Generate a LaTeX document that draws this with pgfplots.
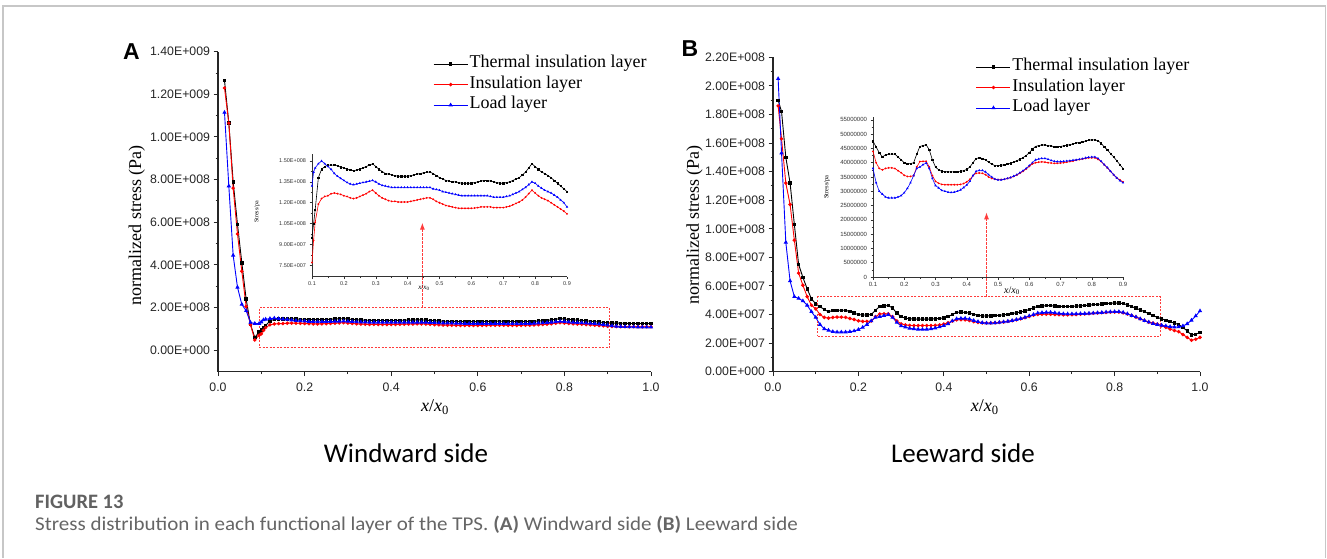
\documentclass[border=0pt]{standalone}
\usepackage{pgfplots}
\pgfplotsset{compat=1.18}
\usepackage{pgfplotstable}
\usetikzlibrary{arrows.meta}
\usepackage{fontspec}
\setmainfont{Liberation Serif}
\newfontfamily\arialf{Liberation Sans}
\newfontfamily\calib{Carlito}
\definecolor{boxred}{RGB}{255,60,60}
\tikzset{zoombox/.style={draw=boxred, color=boxred, line width=0.9pt, dash pattern=on 2pt off 1.5pt}}

\pgfplotstableread{
x T I L
0.015 1.265e9 1.23e9 1.115e9
0.025 1.065e9 1.065e9 7.7e8
0.035 7.9e8 7.6e8 4.45e8
0.045 5.9e8 5.45e8 2.95e8
0.055 4.1e8 3.7e8 2.15e8
0.065 2.4e8 2.05e8 1.85e8
0.075 1.2e8 1.2e8 1.3e8
0.085 6.0e7 4.8e7 1.25e8
0.095 8.5e7 7.0e7 1.25e8
0.100 9.5e7 7.7e7 1.32e8
0.105 1.05e8 9.3e7 1.42e8
0.110 1.15e8 1.06e8 1.45e8
0.120 1.38e8 1.19e8 1.48e8
0.130 1.44e8 1.23e8 1.50e8
0.140 1.46e8 1.245e8 1.48e8
0.150 1.47e8 1.25e8 1.46e8
0.160 1.47e8 1.265e8 1.44e8
0.170 1.47e8 1.27e8 1.41e8
0.180 1.465e8 1.265e8 1.39e8
0.190 1.455e8 1.26e8 1.375e8
0.200 1.45e8 1.25e8 1.36e8
0.210 1.44e8 1.245e8 1.345e8
0.220 1.435e8 1.235e8 1.335e8
0.230 1.43e8 1.23e8 1.33e8
0.240 1.435e8 1.235e8 1.335e8
0.250 1.44e8 1.245e8 1.34e8
0.260 1.45e8 1.255e8 1.345e8
0.270 1.46e8 1.265e8 1.35e8
0.280 1.47e8 1.28e8 1.355e8
0.290 1.48e8 1.29e8 1.36e8
0.300 1.46e8 1.27e8 1.35e8
0.310 1.44e8 1.25e8 1.335e8
0.320 1.425e8 1.235e8 1.325e8
0.330 1.41e8 1.225e8 1.32e8
0.340 1.405e8 1.215e8 1.315e8
0.350 1.40e8 1.21e8 1.31e8
0.360 1.395e8 1.21e8 1.31e8
0.370 1.39e8 1.205e8 1.31e8
0.380 1.39e8 1.205e8 1.31e8
0.390 1.39e8 1.205e8 1.31e8
0.400 1.39e8 1.205e8 1.31e8
0.410 1.395e8 1.21e8 1.31e8
0.420 1.40e8 1.215e8 1.31e8
0.430 1.405e8 1.22e8 1.31e8
0.440 1.41e8 1.225e8 1.31e8
0.450 1.415e8 1.23e8 1.31e8
0.460 1.42e8 1.235e8 1.31e8
0.470 1.42e8 1.235e8 1.31e8
0.480 1.41e8 1.225e8 1.30e8
0.490 1.395e8 1.21e8 1.295e8
0.500 1.38e8 1.20e8 1.29e8
0.510 1.37e8 1.19e8 1.28e8
0.520 1.36e8 1.18e8 1.275e8
0.530 1.355e8 1.175e8 1.27e8
0.540 1.35e8 1.17e8 1.265e8
0.550 1.35e8 1.165e8 1.26e8
0.560 1.345e8 1.16e8 1.255e8
0.570 1.34e8 1.16e8 1.25e8
0.580 1.34e8 1.16e8 1.25e8
0.590 1.34e8 1.16e8 1.25e8
0.600 1.34e8 1.16e8 1.25e8
0.610 1.345e8 1.162e8 1.25e8
0.620 1.35e8 1.165e8 1.25e8
0.630 1.355e8 1.17e8 1.25e8
0.640 1.36e8 1.17e8 1.25e8
0.650 1.36e8 1.17e8 1.25e8
0.660 1.355e8 1.17e8 1.245e8
0.670 1.35e8 1.165e8 1.24e8
0.680 1.345e8 1.165e8 1.24e8
0.690 1.34e8 1.165e8 1.24e8
0.700 1.34e8 1.165e8 1.24e8
0.710 1.345e8 1.17e8 1.245e8
0.720 1.35e8 1.175e8 1.25e8
0.730 1.36e8 1.185e8 1.26e8
0.740 1.37e8 1.195e8 1.27e8
0.750 1.38e8 1.205e8 1.28e8
0.760 1.40e8 1.22e8 1.295e8
0.770 1.42e8 1.24e8 1.31e8
0.780 1.45e8 1.265e8 1.33e8
0.790 1.48e8 1.29e8 1.35e8
0.800 1.46e8 1.27e8 1.34e8
0.810 1.44e8 1.25e8 1.32e8
0.820 1.42e8 1.235e8 1.305e8
0.830 1.41e8 1.225e8 1.29e8
0.840 1.395e8 1.215e8 1.28e8
0.850 1.38e8 1.20e8 1.27e8
0.860 1.36e8 1.185e8 1.255e8
0.870 1.34e8 1.17e8 1.24e8
0.880 1.32e8 1.155e8 1.22e8
0.890 1.30e8 1.14e8 1.20e8
0.900 1.28e8 1.12e8 1.17e8
0.910 1.275e8 1.115e8 1.14e8
0.920 1.27e8 1.11e8 1.12e8
0.930 1.265e8 1.105e8 1.11e8
0.940 1.26e8 1.10e8 1.10e8
0.950 1.255e8 1.10e8 1.095e8
0.960 1.25e8 1.10e8 1.09e8
0.970 1.25e8 1.10e8 1.085e8
0.980 1.25e8 1.10e8 1.08e8
0.990 1.25e8 1.10e8 1.08e8
1.000 1.25e8 1.10e8 1.08e8
}\dataA

\pgfplotstableread{
x T I L
0.012 1.90e8 1.86e8 2.05e8
0.020 1.82e8 1.63e8 1.53e8
0.030 1.50e8 1.32e8 9.05e7
0.040 1.32e8 1.17e8 6.35e7
0.050 1.03e8 9.2e7 5.25e7
0.060 7.5e7 6.9e7 5.13e7
0.070 6.6e7 6.05e7 4.95e7
0.080 5.8e7 5.25e7 4.65e7
0.090 5.1e7 4.65e7 4.2e7
0.100 4.75e7 4.4e7 3.8e7
0.110 4.55e7 4.0e7 3.3e7
0.120 4.35e7 3.8e7 3.0e7
0.130 4.2e7 3.75e7 2.9e7
0.140 4.28e7 3.8e7 2.8e7
0.150 4.3e7 3.82e7 2.77e7
0.160 4.3e7 3.82e7 2.77e7
0.170 4.3e7 3.8e7 2.77e7
0.180 4.2e7 3.72e7 2.8e7
0.190 4.1e7 3.65e7 2.85e7
0.200 4.0e7 3.56e7 2.95e7
0.210 3.97e7 3.52e7 3.1e7
0.220 3.97e7 3.52e7 3.3e7
0.230 4.0e7 3.55e7 3.55e7
0.240 4.3e7 3.85e7 3.8e7
0.250 4.57e7 4.04e7 3.85e7
0.260 4.6e7 4.05e7 3.93e7
0.270 4.63e7 4.05e7 3.99e7
0.280 4.45e7 3.85e7 3.8e7
0.290 4.1e7 3.55e7 3.45e7
0.300 3.85e7 3.35e7 3.2e7
0.310 3.75e7 3.28e7 3.12e7
0.320 3.7e7 3.24e7 3.03e7
0.330 3.69e7 3.23e7 3.0e7
0.340 3.68e7 3.23e7 2.97e7
0.350 3.68e7 3.23e7 2.96e7
0.360 3.68e7 3.23e7 2.97e7
0.370 3.69e7 3.23e7 3.0e7
0.380 3.7e7 3.24e7 3.05e7
0.390 3.72e7 3.27e7 3.13e7
0.400 3.77e7 3.33e7 3.22e7
0.410 3.85e7 3.42e7 3.35e7
0.420 4.0e7 3.55e7 3.55e7
0.430 4.15e7 3.63e7 3.7e7
0.440 4.17e7 3.64e7 3.73e7
0.450 4.15e7 3.63e7 3.73e7
0.460 4.1e7 3.58e7 3.68e7
0.470 4.02e7 3.5e7 3.58e7
0.480 3.95e7 3.45e7 3.5e7
0.490 3.9e7 3.42e7 3.43e7
0.500 3.9e7 3.41e7 3.4e7
0.510 3.91e7 3.41e7 3.4e7
0.520 3.93e7 3.42e7 3.42e7
0.530 3.95e7 3.45e7 3.45e7
0.540 3.98e7 3.48e7 3.48e7
0.550 4.02e7 3.52e7 3.53e7
0.560 4.07e7 3.57e7 3.58e7
0.570 4.12e7 3.63e7 3.65e7
0.580 4.18e7 3.7e7 3.72e7
0.590 4.25e7 3.78e7 3.8e7
0.600 4.35e7 3.87e7 3.9e7
0.610 4.47e7 3.96e7 4.0e7
0.620 4.57e7 4.0e7 4.1e7
0.630 4.6e7 4.02e7 4.13e7
0.640 4.62e7 4.03e7 4.15e7
0.650 4.62e7 4.02e7 4.15e7
0.660 4.6e7 4.0e7 4.12e7
0.670 4.58e7 3.99e7 4.08e7
0.680 4.57e7 3.98e7 4.05e7
0.690 4.56e7 3.98e7 4.04e7
0.700 4.57e7 3.99e7 4.04e7
0.710 4.59e7 4.0e7 4.05e7
0.720 4.61e7 4.02e7 4.06e7
0.730 4.63e7 4.04e7 4.07e7
0.740 4.66e7 4.06e7 4.09e7
0.750 4.69e7 4.09e7 4.1e7
0.760 4.71e7 4.11e7 4.12e7
0.770 4.73e7 4.13e7 4.14e7
0.780 4.76e7 4.15e7 4.17e7
0.790 4.79e7 4.17e7 4.19e7
0.800 4.8e7 4.17e7 4.2e7
0.810 4.8e7 4.17e7 4.2e7
0.820 4.77e7 4.12e7 4.15e7
0.830 4.68e7 4.04e7 4.05e7
0.840 4.55e7 3.93e7 3.93e7
0.850 4.45e7 3.82e7 3.83e7
0.860 4.32e7 3.7e7 3.7e7
0.870 4.2e7 3.58e7 3.58e7
0.880 4.07e7 3.47e7 3.47e7
0.890 3.93e7 3.4e7 3.37e7
0.900 3.8e7 3.33e7 3.3e7
0.910 3.7e7 3.22e7 3.25e7
0.920 3.6e7 3.1e7 3.2e7
0.930 3.5e7 2.98e7 3.15e7
0.940 3.4e7 2.88e7 3.12e7
0.950 3.3e7 2.8e7 3.13e7
0.960 3.1e7 2.6e7 3.2e7
0.970 2.85e7 2.4e7 3.35e7
0.980 2.57e7 2.2e7 3.6e7
0.990 2.62e7 2.27e7 3.9e7
1.000 2.75e7 2.4e7 4.25e7
}\dataB

\pgfplotsset{
  origin/.style={
    scale only axis, anchor=south west, clip=false,
    scaled ticks=false,
    axis x line*=bottom, axis y line*=left,
    axis line style={-, line width=1.1pt, black!85},
    tick align=outside, tick style={black!85, line width=1pt},
    major tick length=4.5pt, minor tick length=2.5pt,
    ticklabel style={font=\arialf\fontsize{12.3}{12.3}\selectfont, text=black!85},
    xticklabel style={yshift=-3pt},
    xmin=0, xmax=1,
    xtick={0,0.2,0.4,0.6,0.8,1},
    xticklabels={\mbox{0.0},\mbox{0.2},\mbox{0.4},\mbox{0.6},\mbox{0.8},\mbox{1.0}},
    minor xtick={0.1,0.3,0.5,0.7,0.9},
    xlabel={\textit{x}/\textit{x}\textsubscript{0}},
    label style={font=\fontsize{18}{18}\selectfont},
    legend cell align=left,
    legend image code/.code={\draw[mark repeat=2,mark phase=2] plot coordinates {(0pt,0pt) (17pt,0pt) (34pt,0pt)};},
  },
  inset/.style={
    scale only axis, anchor=south west, clip=false,
    scaled ticks=false,
    axis x line*=bottom, axis y line*=left,
    axis line style={-, line width=0.7pt, black!80},
    tick align=outside, tick style={black!80, line width=0.5pt},
    major tick length=2.5pt, minor tick length=1.5pt,
    xmin=0.1, xmax=0.9,
    xtick={0.1,0.2,0.3,0.4,0.5,0.6,0.7,0.8,0.9},
    xticklabels={\mbox{0.1},\mbox{0.2},\mbox{0.3},\mbox{0.4},\mbox{0.5},\mbox{0.6},\mbox{0.7},\mbox{0.8},\mbox{0.9}},
    minor xtick={0.15,0.25,0.35,0.45,0.55,0.65,0.75,0.85},
    xticklabel style={yshift=1pt},
  },
  tl/.style={black, line width=0.9pt, mark=square*, mark size=1.2pt, mark options={solid}},
  il/.style={red, line width=0.9pt, mark=*, mark size=1.3pt, mark options={solid}},
  ll/.style={blue, line width=0.9pt, mark=triangle*, mark size=1.6pt, mark options={solid}},
  tls/.style={black, line width=0.6pt, mark=square*, mark size=0.6pt, mark options={solid}},
  ils/.style={red, line width=0.6pt, mark=*, mark size=0.6pt, mark options={solid}},
  lls/.style={blue, line width=0.6pt, mark=triangle*, mark size=0.8pt, mark options={solid}},
}

\begin{document}
\begin{tikzpicture}
\useasboundingbox (0pt,0pt) rectangle (1327pt,558pt);
\fill[white] (0pt,0pt) rectangle (1327pt,558pt);
\draw[black!22, line width=1.2pt] (3pt,0pt) -- (3pt,552pt) -- (1325.5pt,552pt) -- (1325.5pt,0pt);

% ---------------- Panel A ----------------
\begin{axis}[origin, at={(218pt,186.5pt)}, width=433pt, height=319.8pt,
  ymin=-1e8, ymax=1.4e9,
  ytick={0,2e8,4e8,6e8,8e8,1e9,1.2e9,1.4e9},
  yticklabels={\mbox{0.00E+000},\mbox{2.00E+008},\mbox{4.00E+008},\mbox{6.00E+008},\mbox{8.00E+008},\mbox{1.00E+009},\mbox{1.20E+009},\mbox{1.40E+009}},
  minor ytick={1e8,3e8,5e8,7e8,9e8,1.1e9,1.3e9},
  ylabel={normalized stress (Pa)},
  ylabel style={at={(axis description cs:-0.1875,0.458)}, anchor=center},
  xlabel style={at={(axis description cs:0.501,-0.111)}, anchor=center},
  legend style={at={(axis description cs:0.4965,0.994)}, anchor=north west, draw=none, fill=none,
    font=\fontsize{18}{18}\selectfont, inner sep=0pt, row sep=0pt,
    nodes={inner sep=1.5pt, text height=12.5pt, text depth=5pt}},
]
\addplot[tl] table[x=x,y=T] {\dataA};
\addlegendentry{Thermal insulation layer}
\addplot[il] table[x=x,y=I] {\dataA};
\addlegendentry{Insulation layer}
\addplot[ll] table[x=x,y=L] {\dataA};
\addlegendentry{Load layer}
\draw[zoombox] (axis cs:0.095,1.1e7) -- (axis cs:0.904,1.1e7) -- (axis cs:0.904,2.0e8) -- (axis cs:0.095,2.0e8) -- cycle;
\draw[zoombox, dash pattern=on 2.5pt off 1.5pt, -{Latex[length=7pt,width=5pt]}] (axis cs:0.472,2.0e8) -- (axis cs:0.472,5.98e8);
\node[font=\arialf\bfseries\fontsize{23}{23}\selectfont] at (axis description cs:-0.2,1.0) {A};
\end{axis}

\begin{axis}[inset, at={(312pt,281.5pt)}, width=255pt, height=122.5pt,
  ymin=6.7e7, ymax=1.55e8,
  ytick={7.5e7,9e7,1.05e8,1.2e8,1.35e8,1.5e8},
  yticklabels={\mbox{7.50E+007},\mbox{9.00E+007},\mbox{1.05E+008},\mbox{1.20E+008},\mbox{1.35E+008},\mbox{1.50E+008}},
  minor ytick={8.25e7,9.75e7,1.125e8,1.275e8,1.425e8},
  ticklabel style={font=\arialf\fontsize{5.5}{5.5}\selectfont, text=black!80},
  ylabel={Stress/pa}, ylabel style={at={(axis description cs:-0.216,0.527)}, anchor=center, font=\fontsize{6}{6}\selectfont},
  xlabel={\textit{x}/\textit{x}\textsubscript{0}}, xlabel style={at={(axis description cs:0.439,-0.09)}, anchor=center, font=\fontsize{7}{7}\selectfont},
]
\addplot[tls, restrict x to domain=0.1:0.9] table[x=x,y=T] {\dataA};
\addplot[ils, restrict x to domain=0.1:0.9] table[x=x,y=I] {\dataA};
\addplot[lls, restrict x to domain=0.1:0.9] table[x=x,y=L] {\dataA};
\end{axis}

% ---------------- Panel B ----------------
\begin{axis}[origin, at={(773pt,186.3pt)}, width=427pt, height=314.4pt,
  ymin=0, ymax=2.2e8,
  ytick={0,2e7,4e7,6e7,8e7,1e8,1.2e8,1.4e8,1.6e8,1.8e8,2e8,2.2e8},
  yticklabels={\mbox{0.00E+000},\mbox{2.00E+007},\mbox{4.00E+007},\mbox{6.00E+007},\mbox{8.00E+007},\mbox{1.00E+008},\mbox{1.20E+008},\mbox{1.40E+008},\mbox{1.60E+008},\mbox{1.80E+008},\mbox{2.00E+008},\mbox{2.20E+008}},
  minor ytick={1e7,3e7,5e7,7e7,9e7,1.1e8,1.3e8,1.5e8,1.7e8,1.9e8,2.1e8},
  ylabel={normalized stress (Pa)},
  ylabel style={at={(axis description cs:-0.184,0.4666)}, anchor=center},
  xlabel style={at={(axis description cs:0.496,-0.112)}, anchor=center},
  legend style={at={(axis description cs:0.475,1.0025)}, anchor=north west, draw=none, fill=none,
    font=\fontsize{18}{18}\selectfont, inner sep=0pt, row sep=0pt,
    nodes={inner sep=1.5pt, text height=12.5pt, text depth=5pt}},
]
\addplot[tl] table[x=x,y=T] {\dataB};
\addlegendentry{Thermal insulation layer}
\addplot[il] table[x=x,y=I] {\dataB};
\addlegendentry{Insulation layer}
\addplot[ll] table[x=x,y=L] {\dataB};
\addlegendentry{Load layer}
\draw[zoombox] (axis cs:0.105,2.5e7) -- (axis cs:0.908,2.5e7) -- (axis cs:0.908,5.25e7) -- (axis cs:0.105,5.25e7) -- cycle;
\draw[zoombox, dash pattern=on 2.5pt off 1.5pt, -{Latex[length=7pt,width=5pt]}] (axis cs:0.5,5.25e7) -- (axis cs:0.5,1.115e8);
\node[font=\arialf\bfseries\fontsize{23}{23}\selectfont] at (axis description cs:-0.1944,1.0293) {B};
\end{axis}

\begin{axis}[inset, at={(873pt,281pt)}, width=250pt, height=160pt,
  ymin=0, ymax=5.6e7,
  ytick={0,5e6,1e7,1.5e7,2e7,2.5e7,3e7,3.5e7,4e7,4.5e7,5e7,5.5e7},
  yticklabels={\mbox{0},\mbox{5000000},\mbox{10000000},\mbox{15000000},\mbox{20000000},\mbox{25000000},\mbox{30000000},\mbox{35000000},\mbox{40000000},\mbox{45000000},\mbox{50000000},\mbox{55000000}},
  minor ytick={2.5e6,7.5e6,1.25e7,1.75e7,2.25e7,2.75e7,3.25e7,3.75e7,4.25e7,4.75e7,5.25e7},
  ticklabel style={font=\arialf\fontsize{6}{6}\selectfont, text=black!80},
  ylabel={Stress/pa}, ylabel style={at={(axis description cs:-0.184,0.5625)}, anchor=center, font=\fontsize{6.5}{6.5}\selectfont},
  xlabel={\textit{x}/\textit{x}\textsubscript{0}}, xlabel style={at={(axis description cs:0.556,-0.085)}, anchor=center, font=\fontsize{10}{10}\selectfont},
]
\addplot[tls, restrict x to domain=0.1:0.9] table[x=x,y=T] {\dataB};
\addplot[ils, restrict x to domain=0.1:0.9] table[x=x,y=I] {\dataB};
\addplot[lls, restrict x to domain=0.1:0.9] table[x=x,y=L] {\dataB};
\end{axis}

% ---------------- texts ----------------
\node[font=\calib\fontsize{27}{27}\selectfont, anchor=base] at (406pt,96pt) {Windward side};
\node[font=\calib\fontsize{27}{27}\selectfont, anchor=base] at (963pt,96pt) {Leeward side};
\node[font=\calib\bfseries\fontsize{20.5}{20.5}\selectfont, text=black!62, anchor=base west, inner sep=0pt] at (35pt,50pt) {FIGURE 13};
\node[font=\calib\fontsize{19.5}{19.5}\selectfont, text=black!60, anchor=base west, inner sep=0pt] at (35pt,28pt) {\scalebox{1.077}[1]{Stress distribution in each functional layer of the TPS. \textbf{(A)} Windward side \textbf{(B)} Leeward side}};
\end{tikzpicture}
\end{document}
